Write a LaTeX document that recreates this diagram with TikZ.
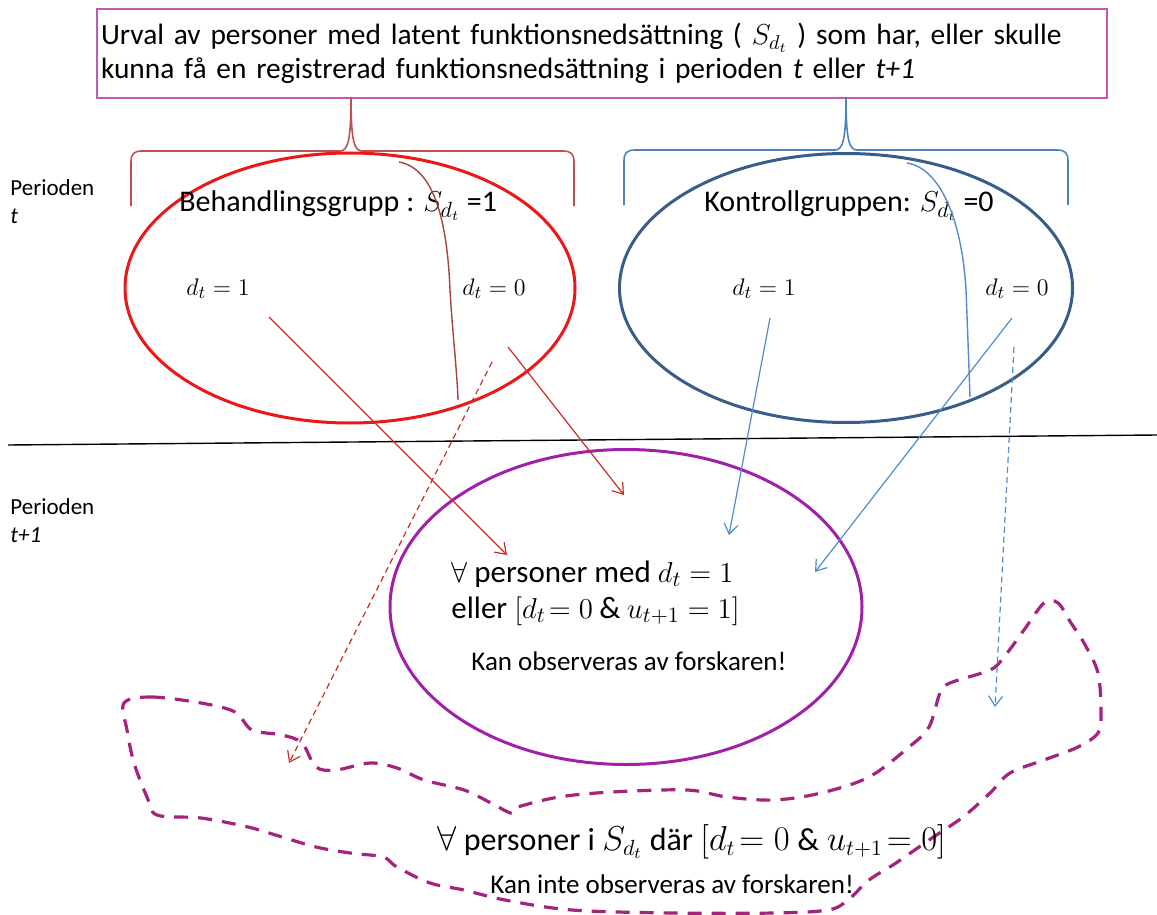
\documentclass[tikz,border=0pt]{standalone}
\usepackage{amsmath}
\usepackage{fontspec}
\setmainfont{Carlito}
\usetikzlibrary{arrows.meta,shapes.geometric}

\definecolor{boxpink}{RGB}{196,88,178}
\definecolor{grpred}{RGB}{236,24,24}
\definecolor{bracered}{RGB}{192,80,77}
\definecolor{grpblue}{RGB}{56,93,138}
\definecolor{braceblue}{RGB}{79,129,189}
\definecolor{obspurple}{RGB}{160,32,170}
\definecolor{blobmag}{RGB}{165,35,125}
\definecolor{arrred}{RGB}{200,45,40}
\definecolor{arrblue}{RGB}{80,140,205}

\newcommand{\grptxt}{\fontsize{15}{18}\selectfont}
\newcommand{\mathtxt}{\fontsize{12.5}{15}\selectfont}
\newcommand{\smalltxt}{\fontsize{13.5}{16}\selectfont}
\newcommand{\alltxt}{\fontsize{15.5}{18}\selectfont}

\tikzset{
  grp/.style={ellipse, line width=1.5pt, inner sep=0pt},
  brace/.style={line width=0.8pt},
  lbl/.style={anchor=base west, inner sep=0pt},
  perlbl/.style={anchor=base west, align=left, inner sep=0pt, font=\fontsize{11.5}{14}\selectfont},
  thinarr/.style={line width=0.6pt, -{Straight Barb[length=5pt,width=7pt]}},
}

\begin{document}
\begin{tikzpicture}[x=0.5pt,y=-0.5pt]
  \useasboundingbox (0,0) rectangle (1157,915);
  % selection box
  \node (urval) [draw=boxpink, line width=1pt, anchor=north west, text width=501pt,
    align=left, inner xsep=2pt, inner ysep=3pt, minimum height=44.5pt,
    font=\fontsize{14.7}{17}\selectfont] at (96,8)
    {Urval av personer med latent funktionsnedsättning ( $S_{d_t}$ ) som har, eller skulle\\
     kunna få en registrerad funktionsnedsättning i perioden \textit{t} eller \textit{t+1}};
  % braces
  \draw[brace, bracered] (131,206) -- (131,162) .. controls (131,154) and (134,151) .. (142,151)
    -- (340,151) .. controls (348,151) and (351,140) .. (351,97)
    .. controls (351,140) and (354,151) .. (362,151) -- (563,151)
    .. controls (571,151) and (574,154) .. (574,162) -- (574,206);
  \draw[brace, braceblue] (624,205) -- (624,161) .. controls (624,153) and (627,150) .. (635,150)
    -- (835,150) .. controls (843,150) and (846,139) .. (846,97)
    .. controls (846,139) and (849,150) .. (857,150) -- (1057,150)
    .. controls (1065,150) and (1068,153) .. (1068,161) -- (1068,205);
  % period labels and line
  \node (pert) [perlbl] at (10,223) {Perioden\\\textit{t}};
  \node (pert1) [perlbl] at (10,542) {Perioden\\\textit{t+1}};
  \draw[line width=0.7pt] (8,445) -- (1157,435);
  % groups in period t
  \node (beh) [grp, draw=grpred, minimum width=225pt, minimum height=135pt] at (350,288) {};
  \node (kon) [grp, draw=grpblue, minimum width=226.5pt, minimum height=134.5pt] at (846,288) {};
  \node (behlbl) [lbl, font=\grptxt] at (179,212) {Behandlingsgrupp : $S_{d_t}$ =1};
  \node (konlbl) [lbl, font=\grptxt] at (704,212) {Kontrollgruppen: $S_{d_t}$ =0};
  \node (bd1) [lbl, font=\mathtxt] at (186,295) {$d_t = 1$};
  \node (bd0) [lbl, font=\mathtxt] at (462,295) {$d_t = 0$};
  \node (kd1) [lbl, font=\mathtxt] at (732,295) {$d_t = 1$};
  \node (kd0) [lbl, font=\mathtxt] at (985,295) {$d_t = 0$};
  % split curves
  \draw[line width=0.7pt, bracered!85!black] (399,162) .. controls (432,168) and (447,215) .. (450,290)
    .. controls (453,340) and (457,370) .. (458,400);
  \draw[line width=0.7pt, arrblue] (907,163) .. controls (940,168) and (962,220) .. (966,290)
    .. controls (968,340) and (969,370) .. (970,397);
  % observed group in period t+1
  \node (obs) [grp, draw=obspurple, minimum width=236pt, minimum height=157.5pt] at (626,607) {};
  \node (obs1) [lbl, font=\alltxt] at (451,582) {$\forall$ personer med $d_t = 1$};
  \node (obs2) [lbl, font=\alltxt] at (451,618) {eller $[d_t\!= 0 \mathbin{\&} u_{t+1} = 1]$};
  \node (obs3) [lbl, font=\smalltxt] at (471,670) {Kan observeras av forskaren!};
  % unobserved group
  \draw[line width=1.6pt, blobmag, dash pattern=on 7pt off 5pt] plot[smooth cycle, tension=0.55] coordinates {
    (124,703) (151,697) (201,703) (235,712) (252,730) (282,735) (302,743) (316,767)
    (336,770) (370,763) (397,768) (424,780) (464,790) (491,803) (511,813) (518,807)
    (559,797) (612,792) (687,790) (727,797) (774,800) (821,793) (869,777) (909,747)
    (929,727) (940,693) (950,683) (990,670) (1004,657) (1024,630) (1044,603) (1058,603)
    (1071,623) (1084,643) (1098,673) (1101,713) (1098,733) (1078,747) (1044,760) (1010,773)
    (990,793) (963,817) (929,840) (896,863) (869,880) (848,900) (828,910) (774,913)
    (673,913) (572,910) (505,900) (464,890) (430,883) (397,867) (383,857) (350,853)
    (316,847) (282,837) (248,827) (201,818) (157,815) (147,797) (134,763) (127,730)};
  \node (uno1) [lbl, font=\fontsize{16}{19}\selectfont] at (437,850)
    {$\forall$ personer i $S_{d_t}$ där $[d_t\!= 0 \mathbin{\&} u_{t+1}\!= 0]$};
  \node (uno2) [lbl, font=\smalltxt] at (490,893) {Kan inte observeras av forskaren!};
  % arrow ends
  \coordinate (r1s) at (269,317); \coordinate (r1e) at (507,555);
  \coordinate (r2s) at (508,347); \coordinate (r2e) at (624,495);
  \coordinate (r3s) at (492,362); \coordinate (r3e) at (289,763);
  \coordinate (b1s) at (770,318); \coordinate (b1e) at (729,535);
  \coordinate (b2s) at (1012,318); \coordinate (b2e) at (815,572);
  \coordinate (b3s) at (1014,347); \coordinate (b3e) at (995,707);
  % arrows
  \foreach \a/\b in {r1s/r1e, r2s/r2e}
    \draw[thinarr, arrred] (\a) -- (\b);
  \draw[thinarr, arrred, dash pattern=on 3pt off 2pt] (r3s) -- (r3e);
  \foreach \a/\b in {b1s/b1e, b2s/b2e}
    \draw[thinarr, arrblue] (\a) -- (\b);
  \draw[thinarr, arrblue, dash pattern=on 3pt off 2pt] (b3s) -- (b3e);
\end{tikzpicture}
\end{document}
